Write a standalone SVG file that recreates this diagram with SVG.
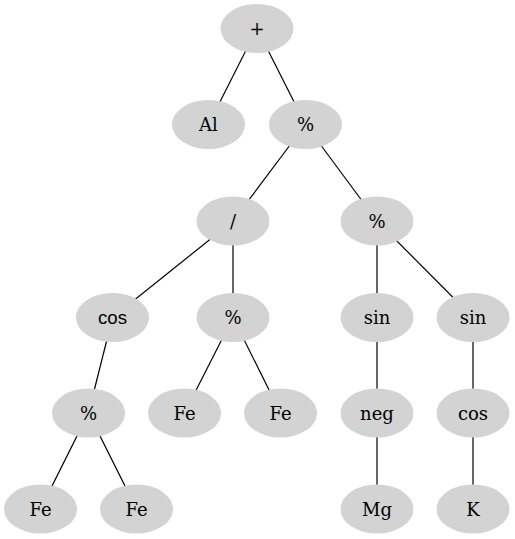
<svg xmlns="http://www.w3.org/2000/svg" width="515" height="539" viewBox="0 0 515 539">
  <style>
    .node ellipse { fill: #d3d3d3; stroke: none; }
    .node text { font-family: "DejaVu Serif", serif; font-size: 18px; fill: #000; text-anchor: middle; }
    .node text.sans { font-family: "Liberation Sans", Arial, sans-serif; font-size: 18.67px; }
    #edges line { stroke: #000; stroke-width: 1.2; }
  </style>
  <rect width="515" height="539" fill="#fff"/>
  <g id="edges">
    <line x1="257" y1="28.5" x2="208.5" y2="124.5"/>
    <line x1="257" y1="28.5" x2="305.5" y2="124.5"/>
    <line x1="305.5" y1="124.5" x2="233" y2="221"/>
    <line x1="305.5" y1="124.5" x2="377" y2="221"/>
    <line x1="233" y1="221" x2="112.5" y2="317.5"/>
    <line x1="233" y1="221" x2="233" y2="317.5"/>
    <line x1="377" y1="221" x2="377" y2="317.5"/>
    <line x1="377" y1="221" x2="473" y2="317.5"/>
    <line x1="112.5" y1="317.5" x2="88.5" y2="413"/>
    <line x1="233" y1="317.5" x2="184.5" y2="413"/>
    <line x1="233" y1="317.5" x2="280.5" y2="413"/>
    <line x1="377" y1="317.5" x2="377" y2="413"/>
    <line x1="473" y1="317.5" x2="473" y2="413"/>
    <line x1="88.5" y1="413" x2="40.5" y2="509"/>
    <line x1="88.5" y1="413" x2="136.5" y2="509"/>
    <line x1="377" y1="413" x2="377" y2="509"/>
    <line x1="473" y1="413" x2="473" y2="509"/>
  </g>
  <g id="n_plus" class="node"><ellipse cx="257" cy="28.5" rx="36.5" ry="24.5"/><text x="257" y="35">+</text></g>
  <g id="n_al" class="node"><ellipse cx="208.5" cy="124.5" rx="36.5" ry="24.5"/><text x="208.5" y="131">Al</text></g>
  <g id="n_mod1" class="node"><ellipse cx="305.5" cy="124.5" rx="36.5" ry="24.5"/><text x="305.5" y="131">%</text></g>
  <g id="n_div" class="node"><ellipse cx="233" cy="221" rx="36.5" ry="24.5"/><text x="233" y="227.5">/</text></g>
  <g id="n_mod2" class="node"><ellipse cx="377" cy="221" rx="36.5" ry="24.5"/><text x="377" y="227.5">%</text></g>
  <g id="n_cos1" class="node"><ellipse cx="112.5" cy="317.5" rx="36.5" ry="24.5"/><text class="sans" x="112.5" y="324">cos</text></g>
  <g id="n_mod3" class="node"><ellipse cx="233" cy="317.5" rx="36.5" ry="24.5"/><text x="233" y="324">%</text></g>
  <g id="n_sin1" class="node"><ellipse cx="377" cy="317.5" rx="36.5" ry="24.5"/><text x="377" y="324">sin</text></g>
  <g id="n_sin2" class="node"><ellipse cx="473" cy="317.5" rx="36.5" ry="24.5"/><text x="473" y="324">sin</text></g>
  <g id="n_mod4" class="node"><ellipse cx="88.5" cy="413" rx="36.5" ry="24.5"/><text x="88.5" y="419.5">%</text></g>
  <g id="n_fe1" class="node"><ellipse cx="184.5" cy="413" rx="36.5" ry="24.5"/><text x="184.5" y="419.5">Fe</text></g>
  <g id="n_fe2" class="node"><ellipse cx="280.5" cy="413" rx="36.5" ry="24.5"/><text x="280.5" y="419.5">Fe</text></g>
  <g id="n_neg" class="node"><ellipse cx="377" cy="413" rx="36.5" ry="24.5"/><text x="377" y="419.5">neg</text></g>
  <g id="n_cos2" class="node"><ellipse cx="473" cy="413" rx="36.5" ry="24.5"/><text x="473" y="419.5">cos</text></g>
  <g id="n_fe3" class="node"><ellipse cx="40.5" cy="509" rx="36.5" ry="24.5"/><text x="40.5" y="515.5">Fe</text></g>
  <g id="n_fe4" class="node"><ellipse cx="136.5" cy="509" rx="36.5" ry="24.5"/><text x="136.5" y="515.5">Fe</text></g>
  <g id="n_mg" class="node"><ellipse cx="377" cy="509" rx="36.5" ry="24.5"/><text x="377" y="515.5">Mg</text></g>
  <g id="n_k" class="node"><ellipse cx="473" cy="509" rx="36.5" ry="24.5"/><text x="473" y="515.5">K</text></g>
</svg>
